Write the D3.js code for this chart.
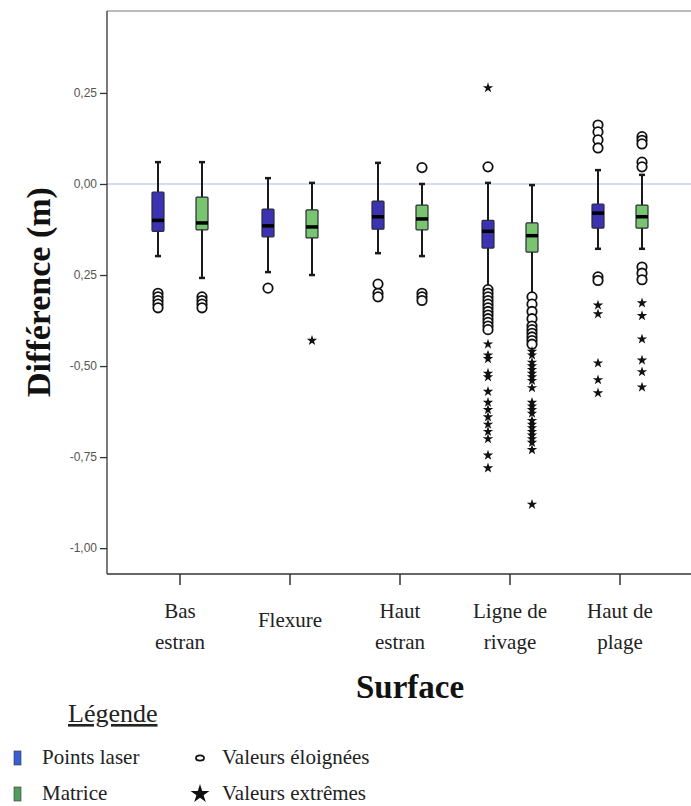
<!DOCTYPE html>
<html>
<head>
<meta charset="utf-8">
<script src="https://cdn.jsdelivr.net/npm/d3@7"></script>
<style>
body { margin: 0; background: #fff; }
</style>
</head>
<body>
<div id="draw"></div>
<script>
var categories = ["Bas estran", "Flexure", "Haut estran", "Ligne de rivage", "Haut de plage"];
var catLines = [["Bas", "estran"], ["Flexure"], ["Haut", "estran"], ["Ligne de", "rivage"], ["Haut de", "plage"]];
var series = ["Points laser", "Matrice"];

// box stats per category, one array per series
var laserHigh = [0.060, 0.016, 0.058, 0.003, 0.038];
var laserQ3 = [-0.022, -0.069, -0.047, -0.100, -0.055];
var laserMed = [-0.100, -0.115, -0.090, -0.130, -0.080];
var laserQ1 = [-0.130, -0.145, -0.124, -0.176, -0.121];
var laserLow = [-0.198, -0.242, -0.190, -0.283, -0.178];

var matHigh = [0.060, 0.003, 0.000, -0.003, 0.025];
var matQ3 = [-0.036, -0.071, -0.058, -0.107, -0.058];
var matMed = [-0.107, -0.118, -0.096, -0.142, -0.090];
var matQ1 = [-0.126, -0.148, -0.126, -0.187, -0.121];
var matLow = [-0.258, -0.250, -0.198, -0.300, -0.178];

var laserOut = [
	[-0.30, -0.31, -0.32, -0.33, -0.34],
	[-0.286],
	[-0.275, -0.30, -0.31],
	[0.047, -0.29, -0.30, -0.31, -0.32, -0.33, -0.34, -0.35, -0.36, -0.37, -0.38, -0.39, -0.40],
	[0.162, 0.143, 0.121, 0.099, -0.255, -0.265]
];
var laserExt = [
	[],
	[],
	[],
	[0.264, -0.44, -0.47, -0.48, -0.52, -0.53, -0.57, -0.60, -0.62, -0.64, -0.66, -0.68, -0.70, -0.745, -0.78],
	[-0.333, -0.357, -0.492, -0.538, -0.574]
];
var matOut = [
	[-0.31, -0.32, -0.33, -0.34],
	[],
	[0.045, -0.30, -0.31, -0.32],
	[-0.31, -0.33, -0.35, -0.37, -0.39, -0.40, -0.41, -0.42, -0.43, -0.44],
	[0.13, 0.12, 0.11, 0.06, 0.047, -0.228, -0.245, -0.263]
];
var matExt = [
	[],
	[-0.43],
	[],
	[-0.46, -0.47, -0.49, -0.50, -0.51, -0.52, -0.53, -0.54, -0.56, -0.60, -0.61, -0.62, -0.63, -0.65, -0.66, -0.67, -0.68, -0.69, -0.70, -0.71, -0.73, -0.88],
	[-0.327, -0.362, -0.426, -0.484, -0.516, -0.558]
];

var yTicks = [0.25, 0, -0.25, -0.5, -0.75, -1];
var yTickLabels = ["0,25", "0,00", "0,25", "-0,50", "-0,75", "-1,00"];

var width = 691, height = 806;
var plotLeft = 107, plotRight = 691, plotTop = 11, plotBottom = 574;

var boxes = [];
for (var i = 0; i < categories.length; ++i) {
	boxes.push({cat: categories[i], s: series[0], hi: laserHigh[i], q3: laserQ3[i], med: laserMed[i], q1: laserQ1[i], lo: laserLow[i], out: laserOut[i], ext: laserExt[i]});
	boxes.push({cat: categories[i], s: series[1], hi: matHigh[i], q3: matQ3[i], med: matMed[i], q1: matQ1[i], lo: matLow[i], out: matOut[i], ext: matExt[i]});
}

var color = d3.scaleOrdinal().domain(series).range(["#3c33b3", "#79c56f"]);

var x = d3.scaleBand().domain(categories).range([125, 675]);
var xs = d3.scaleBand().domain(series).range([-44, 44]);
var y = d3.scaleLinear().domain([-1.071, 0.475]).range([plotBottom, plotTop]);

var svg = d3.select("#draw").append("svg")
	.attr("width", width)
	.attr("height", height)
	.style("font-family", "'Liberation Serif', 'Times New Roman', serif");

function cx(d) { return x(d.cat) + x.bandwidth() / 2 + xs(d.s) + xs.bandwidth() / 2; }

// zero line
svg.append("line")
	.attr("x1", plotLeft).attr("x2", plotRight)
	.attr("y1", y(0)).attr("y2", y(0))
	.attr("stroke", "#c9d0ea").attr("stroke-width", 1.5);

// frame top
svg.append("line")
	.attr("x1", plotLeft).attr("x2", plotRight)
	.attr("y1", plotTop).attr("y2", plotTop)
	.attr("stroke", "#777").attr("stroke-width", 1.2);

// y axis
var yAxis = svg.append("g")
	.attr("transform", "translate(" + plotLeft + ",0)")
	.call(d3.axisLeft(y).tickValues(yTicks).tickSize(7).tickPadding(3)
		.tickFormat(function(d, i){ return yTickLabels[i]; }));
yAxis.select(".domain").attr("d", "M0," + plotTop + "V" + plotBottom).attr("stroke", "#333").attr("stroke-width", 1.3);
yAxis.selectAll(".tick line").attr("stroke", "#333").attr("stroke-width", 1.3);
yAxis.selectAll(".tick text")
	.attr("fill", "#555")
	.style("font-family", "'Liberation Sans', Arial, sans-serif")
	.style("font-size", "12px");

// x axis
var xAxis = svg.append("g")
	.attr("transform", "translate(0," + plotBottom + ")")
	.call(d3.axisBottom(x).tickSize(11).tickFormat(""));
xAxis.select(".domain").attr("d", "M" + plotLeft + ",0H" + plotRight).attr("stroke", "#333").attr("stroke-width", 1.3);
xAxis.selectAll(".tick line").attr("stroke", "#333").attr("stroke-width", 1.5);

svg.selectAll(".xlab")
	.data(categories)
	.enter()
	.append("text")
	.attr("class", "xlab")
	.attr("text-anchor", "middle")
	.attr("fill", "#222")
	.style("font-size", "21px")
	.each(function(d, i){
		var lines = catLines[i];
		var t = d3.select(this);
		var y0 = lines.length == 1 ? 627 : 618;
		lines.forEach(function(l, j){
			t.append("tspan")
				.attr("x", x(d) + x.bandwidth() / 2)
				.attr("y", y0 + j * 31)
				.text(l);
		});
	});

// whiskers
var g = svg.selectAll(".box").data(boxes).enter().append("g").attr("class", "box");

g.append("line")
	.attr("x1", cx).attr("x2", cx)
	.attr("y1", function(d){ return y(d.hi); })
	.attr("y2", function(d){ return y(d.lo); })
	.attr("stroke", "#1a1a1a").attr("stroke-width", 2);

["hi", "lo"].forEach(function(k){
	g.append("line")
		.attr("x1", function(d){ return cx(d) - 3; })
		.attr("x2", function(d){ return cx(d) + 3; })
		.attr("y1", function(d){ return y(d[k]); })
		.attr("y2", function(d){ return y(d[k]); })
		.attr("stroke", "#1a1a1a").attr("stroke-width", 2.5);
});

g.append("rect")
	.attr("x", function(d){ return cx(d) - 6; })
	.attr("width", 12)
	.attr("y", function(d){ return y(d.q3); })
	.attr("height", function(d){ return y(d.q1) - y(d.q3); })
	.attr("fill", function(d){ return color(d.s); })
	.attr("stroke", "#2a2a3a").attr("stroke-width", 1.2)
	.attr("rx", 1);

g.append("line")
	.attr("x1", function(d){ return cx(d) - 6; })
	.attr("x2", function(d){ return cx(d) + 6; })
	.attr("y1", function(d){ return y(d.med); })
	.attr("y2", function(d){ return y(d.med); })
	.attr("stroke", "#000").attr("stroke-width", 3.5);

// outliers
g.each(function(d){
	var gg = d3.select(this);
	gg.selectAll(".out").data(d.out).enter().append("circle")
		.attr("class", "out")
		.attr("cx", cx(d))
		.attr("cy", function(v){ return y(v); })
		.attr("r", 4.7)
		.attr("fill", "#fff")
		.attr("stroke", "#111").attr("stroke-width", 1.8);
	gg.selectAll(".ext").data(d.ext).enter().append("path")
		.attr("class", "ext")
		.attr("d", d3.symbol().type(d3.symbolStar).size(34))
		.attr("transform", function(v){ return "translate(" + cx(d) + "," + y(v) + ")"; })
		.attr("fill", "#111");
});

// titles
svg.append("text")
	.attr("transform", "translate(50,292) rotate(-90)")
	.attr("text-anchor", "middle")
	.attr("font-weight", "bold")
	.style("font-size", "34px")
	.attr("fill", "#111")
	.text("Différence (m)");

svg.append("text")
	.attr("x", 410).attr("y", 698)
	.attr("text-anchor", "middle")
	.attr("font-weight", "bold")
	.style("font-size", "33px")
	.attr("fill", "#111")
	.text("Surface");

// legend
svg.append("text")
	.attr("x", 68).attr("y", 722)
	.style("font-size", "26px")
	.style("text-decoration", "underline")
	.attr("fill", "#222")
	.text("Légende");

var legendY = [757, 793];
svg.selectAll(".lsq").data(series).enter().append("rect")
	.attr("x", 14).attr("width", 7)
	.attr("y", function(d, i){ return legendY[i] - 6; })
	.attr("height", 14)
	.attr("fill", function(d, i){ return ["#3b5fd6", "#4f9e60"][i]; })
	.attr("stroke", "#333").attr("stroke-width", 0.6);
svg.selectAll(".ltx").data(series).enter().append("text")
	.attr("x", 42)
	.attr("y", function(d, i){ return legendY[i] + 7; })
	.style("font-size", "21px")
	.attr("fill", "#222")
	.text(function(d){ return d; });

svg.append("ellipse")
	.attr("cx", 200).attr("cy", legendY[0] + 1)
	.attr("rx", 4).attr("ry", 2.6)
	.attr("fill", "#fff").attr("stroke", "#111").attr("stroke-width", 1.8);
svg.append("path")
	.attr("d", d3.symbol().type(d3.symbolStar).size(110))
	.attr("transform", "translate(200," + (legendY[1] + 1) + ")")
	.attr("fill", "#111");

var markLabels = ["Valeurs éloignées", "Valeurs extrêmes"];
svg.selectAll(".lmk").data(markLabels).enter().append("text")
	.attr("x", 222)
	.attr("y", function(d, i){ return legendY[i] + 7; })
	.style("font-size", "21px")
	.attr("fill", "#222")
	.text(function(d){ return d; });
</script>
</body>
</html>
